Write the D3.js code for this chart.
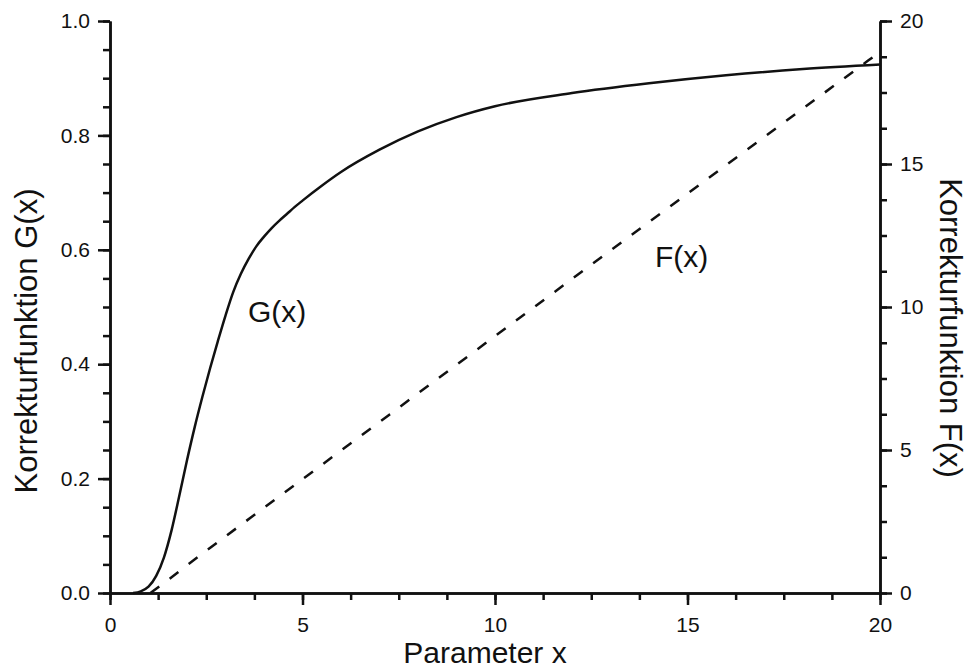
<!DOCTYPE html>
<html>
<head>
<meta charset="utf-8">
<script src="https://cdn.jsdelivr.net/npm/d3@7"></script>
<style>
  body { margin: 0; background: #fff; }
  svg text { font-family: "Liberation Sans", Arial, sans-serif; fill: #111; }
  .axis path, .axis line { stroke: #111; stroke-width: 2.5; }
</style>
</head>
<body>
<svg id="chart" width="971" height="672"></svg>
<script>
// G(x) solid curve
var gX = [0.6, 0.8, 1.0, 1.2, 1.4, 1.6, 1.8, 2.0, 2.2, 2.4, 2.6, 2.8, 3.0, 3.2, 3.4, 3.6, 3.8, 4.0, 4.2, 4.4, 4.6, 4.8, 5.0, 5.5, 6.0, 7.0, 8.0, 9.0, 10, 12, 14, 16, 18, 20];
var gValues = [0, 0.003, 0.011, 0.03, 0.062, 0.11, 0.17, 0.232, 0.29, 0.343, 0.393, 0.44, 0.485, 0.526, 0.558, 0.584, 0.606, 0.623, 0.638, 0.651, 0.663, 0.675, 0.686, 0.712, 0.736, 0.775, 0.807, 0.832, 0.851, 0.874, 0.891, 0.905, 0.916, 0.924];

// F(x) dashed line, right axis
var fX = [1.05, 1.5, 2, 3, 4, 5, 6, 8, 10, 12, 14, 16, 18, 20];
var fValues = [0, 0.45, 0.97, 1.98, 2.98, 3.98, 4.98, 6.98, 8.98, 10.98, 12.97, 14.96, 16.94, 18.92];

var xTicks = [0, 5, 10, 15, 20];
var gTicks = [0.0, 0.2, 0.4, 0.6, 0.8, 1.0];
var fTicks = [0, 5, 10, 15, 20];

var svg = d3.select('#chart');

var x = d3.scaleLinear().domain([0, 20]).range([110, 880]);
var yG = d3.scaleLinear().domain([0, 1]).range([593, 21]);
var yF = d3.scaleLinear().domain([0, 20]).range([593, 21]);

// minor ticks first so the major ones sit on top
svg.append('g').attr('class', 'axis')
  .attr('transform', 'translate(0,593)')
  .call(d3.axisBottom(x).tickValues(d3.range(0, 20.01, 1.25)).tickSize(7).tickSizeOuter(0).tickFormat(''));
svg.append('g').attr('class', 'axis')
  .attr('transform', 'translate(110,0)')
  .call(d3.axisLeft(yG).tickValues(d3.range(0, 1.001, 0.05)).tickSize(7).tickSizeOuter(0).tickFormat(''));
svg.append('g').attr('class', 'axis')
  .attr('transform', 'translate(880,0)')
  .call(d3.axisRight(yF).tickValues(d3.range(0, 20.01, 1.25)).tickSize(7).tickSizeOuter(0).tickFormat(''));

svg.append('g').attr('class', 'axis')
  .attr('transform', 'translate(0,593)')
  .call(d3.axisBottom(x).tickValues(xTicks).tickSize(12).tickSizeOuter(0).tickPadding(12).tickFormat(d3.format('d')));
svg.append('g').attr('class', 'axis')
  .attr('transform', 'translate(110,0)')
  .call(d3.axisLeft(yG).tickValues(gTicks).tickSize(12).tickSizeOuter(0).tickPadding(8).tickFormat(d3.format('.1f')));
svg.append('g').attr('class', 'axis')
  .attr('transform', 'translate(880,0)')
  .call(d3.axisRight(yF).tickValues(fTicks).tickSize(12).tickSizeOuter(0).tickPadding(8).tickFormat(d3.format('d')));

svg.selectAll('.axis text')
  .style('font-size', '21px')
  .style('font-family', '"Liberation Sans", Arial, sans-serif')
  .attr('fill', '#111');

// curves
var gLine = d3.line()
  .x(function(d, i) { return x(gX[i]); })
  .y(function(d) { return yG(d); })
  .curve(d3.curveMonotoneX);
svg.append('path')
  .datum(gValues)
  .attr('d', gLine)
  .attr('fill', 'none')
  .attr('stroke', '#111')
  .attr('stroke-width', 2.5);

var fLine = d3.line()
  .x(function(d, i) { return x(fX[i]); })
  .y(function(d) { return yF(d); })
  .curve(d3.curveMonotoneX);
svg.append('path')
  .datum(fValues)
  .attr('d', fLine)
  .attr('fill', 'none')
  .attr('stroke', '#111')
  .attr('stroke-width', 2.5)
  .attr('stroke-dasharray', '11,13');

// labels
svg.append('text').attr('x', 248).attr('y', 322).style('font-size', '30px').text('G(x)');
svg.append('text').attr('x', 655).attr('y', 267).style('font-size', '30px').text('F(x)');

svg.append('text')
  .attr('x', 485).attr('y', 663)
  .attr('text-anchor', 'middle')
  .style('font-size', '30px')
  .text('Parameter x');

svg.append('text')
  .attr('transform', 'translate(37,341) rotate(-90)')
  .attr('text-anchor', 'middle')
  .style('font-size', '31px')
  .text('Korrekturfunktion G(x)');

svg.append('text')
  .attr('transform', 'translate(940,328) rotate(90)')
  .attr('text-anchor', 'middle')
  .style('font-size', '31px')
  .text('Korrekturfunktion F(x)');
</script>
</body>
</html>
